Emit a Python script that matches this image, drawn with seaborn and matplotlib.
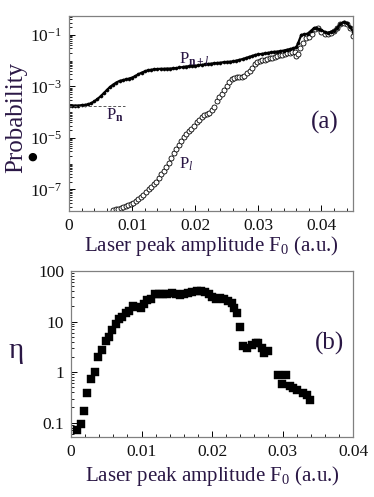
import numpy as np
import pandas as pd
import matplotlib
matplotlib.use("Agg")
import matplotlib.pyplot as plt
import seaborn as sns
from matplotlib.ticker import FixedLocator, LogLocator, NullFormatter, MultipleLocator

# ---------------- data (panel a) ----------------
F_filled = [0.0000, 0.0005, 0.0010, 0.0015, 0.0020, 0.0025, 0.0030, 0.0035, 0.0040, 0.0045,
            0.0050, 0.0055, 0.0060, 0.0065, 0.0070, 0.0075, 0.0080, 0.0085, 0.0090, 0.0095,
            0.0100, 0.0105, 0.0110, 0.0115, 0.0120, 0.0125, 0.0130, 0.0135, 0.0140, 0.0145,
            0.0150, 0.0155, 0.0160, 0.0165, 0.0170, 0.0175, 0.0180, 0.0185, 0.0190, 0.0195,
            0.0200, 0.0205, 0.0210, 0.0215, 0.0220, 0.0225, 0.0230, 0.0235, 0.0240, 0.0245,
            0.0250, 0.0255, 0.0260, 0.0265, 0.0270, 0.0275, 0.0280, 0.0285, 0.0290, 0.0295,
            0.0300, 0.0305, 0.0310, 0.0315, 0.0320, 0.0325, 0.0330, 0.0335, 0.0340, 0.0345,
            0.0350, 0.0355, 0.0360, 0.0363, 0.0368, 0.0373, 0.0378, 0.0383, 0.0388, 0.0392,
            0.0396, 0.0400, 0.0405, 0.0410, 0.0415, 0.0420, 0.0425, 0.0430, 0.0435, 0.0440,
            0.0445, 0.0450]
P_filled = [1.8e-4, 1.8e-4, 1.8e-4, 1.8e-4, 1.86e-4, 1.9e-4, 2.0e-4, 2.2e-4, 2.6e-4, 3.2e-4,
            4.1e-4, 5.4e-4, 7.2e-4, 9.5e-4, 1.17e-3, 1.41e-3, 1.62e-3, 1.74e-3, 1.86e-3, 2.0e-3,
            2.19e-3, 2.5e-3, 2.95e-3, 3.4e-3, 3.8e-3, 4.2e-3, 4.4e-3, 4.6e-3, 4.7e-3, 4.8e-3,
            4.8e-3, 4.9e-3, 4.9e-3, 5.0e-3, 5.1e-3, 5.4e-3, 5.6e-3, 5.9e-3, 6.0e-3, 6.2e-3,
            6.3e-3, 6.5e-3, 6.8e-3, 7.1e-3, 7.4e-3, 7.6e-3, 7.9e-3, 8.1e-3, 8.3e-3, 8.7e-3,
            8.9e-3, 9.1e-3, 9.3e-3, 1.0e-2, 1.07e-2, 1.15e-2, 1.26e-2, 1.38e-2, 1.51e-2, 1.66e-2,
            1.74e-2, 1.82e-2, 1.9e-2, 2.0e-2, 2.1e-2, 2.2e-2, 2.24e-2, 2.34e-2, 2.45e-2, 2.63e-2,
            2.8e-2, 3.0e-2, 3.3e-2, 4.8e-2, 0.100, 0.105, 0.112, 0.141, 0.182, 0.186,
            0.166, 0.151, 0.132, 0.120, 0.132, 0.145, 0.191, 0.275, 0.309, 0.282,
            0.209, 0.135]

F_open = [0.0070, 0.0074, 0.0078, 0.0082, 0.0086, 0.0090, 0.0094, 0.0098, 0.0102, 0.0106,
          0.0110, 0.0114, 0.0118, 0.0122, 0.0126, 0.0130, 0.0134, 0.0138, 0.0142, 0.0146,
          0.0150, 0.0154, 0.0158, 0.0162, 0.0166, 0.0170, 0.0174, 0.0178, 0.0182, 0.0186,
          0.0190, 0.0194, 0.0198, 0.0202, 0.0206, 0.0210, 0.0214, 0.0218, 0.0222, 0.0226,
          0.0230, 0.0234, 0.0238, 0.0242, 0.0246, 0.0250, 0.0254, 0.0258, 0.0262, 0.0266,
          0.0270, 0.0274, 0.0278, 0.0282, 0.0286, 0.0290, 0.0294, 0.0298, 0.0302, 0.0306,
          0.0310, 0.0314, 0.0318, 0.0322, 0.0326, 0.0330, 0.0334, 0.0338, 0.0342, 0.0346,
          0.0350, 0.0354, 0.0358, 0.0360, 0.0362, 0.0366, 0.0370, 0.0375, 0.0380, 0.0385,
          0.0390, 0.0395, 0.0400, 0.0405, 0.0410, 0.0415, 0.0420, 0.0425, 0.0430, 0.0435,
          0.0440, 0.0445, 0.0450]
P_open = [1.6e-8, 1.7e-8, 1.7e-8, 1.9e-8, 2.1e-8, 2.3e-8, 2.5e-8, 2.8e-8, 3.0e-8, 3.5e-8,
          4.2e-8, 4.9e-8, 6.2e-8, 7.9e-8, 1.0e-7, 1.26e-7, 1.55e-7, 2.0e-7, 2.8e-7, 3.8e-7,
          5.2e-7, 7.2e-7, 1.07e-6, 1.6e-6, 2.5e-6, 3.6e-6, 5.2e-6, 7.6e-6, 1.05e-5, 1.45e-5,
          1.8e-5, 2.3e-5, 3.0e-5, 4.0e-5, 5.1e-5, 6.5e-5, 7.6e-5, 8.5e-5, 9.5e-5, 1.17e-4,
          1.6e-4, 2.6e-4, 4.0e-4, 5.2e-4, 7.4e-4, 1.05e-3, 1.48e-3, 1.9e-3, 2.2e-3, 2.3e-3,
          2.35e-3, 2.4e-3, 2.6e-3, 3.2e-3, 3.8e-3, 5.2e-3, 7.6e-3, 8.9e-3, 9.5e-3, 1.02e-2,
          1.1e-2, 1.15e-2, 1.23e-2, 1.29e-2, 1.38e-2, 1.45e-2, 1.58e-2, 1.66e-2, 1.78e-2, 1.9e-2,
          2.0e-2, 2.1e-2, 2.2e-2, 1.45e-2, 1.78e-2, 3.0e-2, 5.0e-2, 7.6e-2, 7.9e-2, 0.112,
          0.166, 0.178, 0.132, 0.112, 0.107, 0.117, 0.141, 0.191, 0.263, 0.295,
          0.263, 0.191, 0.093]

Pn_x = [0.0, 0.0089]
Pn_y = [1.8e-4, 1.8e-4]

# ---------------- data (panel b) ----------------
F_eta = [0.0008, 0.00137, 0.00184, 0.00232, 0.00288, 0.0034, 0.00388, 0.00435, 0.00492, 0.00539,
         0.00586, 0.00634, 0.00681, 0.00728, 0.00776, 0.00823, 0.00884, 0.0094, 0.00988, 0.01035,
         0.01083, 0.0113, 0.0119, 0.01248, 0.0131, 0.01366, 0.01428, 0.01485, 0.01546, 0.01603,
         0.01664, 0.0172, 0.01783, 0.0184, 0.0190, 0.01957, 0.01995, 0.02057, 0.02113, 0.0217,
         0.0223, 0.0228, 0.0231, 0.0236, 0.0240, 0.02444, 0.0250, 0.02563, 0.0262, 0.02657,
         0.02705, 0.02738, 0.0279, 0.0294, 0.0305, 0.02988, 0.0310, 0.03154, 0.0321, 0.03295,
         0.03343, 0.0339]
eta = [0.073, 0.093, 0.169, 0.38, 0.74, 1.01, 1.95, 2.7, 4.2, 4.9,
       6.8, 8.9, 11.2, 12.4, 14.5, 16.3, 20.3, 19.6, 18.7, 21.8,
       26.8, 28.0, 34.5, 34.5, 34.5, 35.0, 36.0, 35.0, 33.5, 35.0,
       37.0, 39.0, 40.0, 40.0, 39.0, 34.5, 31.0, 27.5, 28.8, 27.5,
       25.5, 23.0, 18.3, 14.5, 7.9, 3.27, 2.95, 3.4, 3.7, 3.8,
       2.95, 2.4, 2.6, 0.87, 0.87, 0.57, 0.52, 0.48, 0.44, 0.39,
       0.35, 0.28]

xticks_a = [0, 0.01, 0.02, 0.03, 0.04]
xticklabels_a = ["0", "0.01", "0.02", "0.03", "0.04"]
yticks_a = [1e-1, 1e-3, 1e-5, 1e-7]
yticklabels_a = [r"$10^{-1}$", r"$10^{-3}$", r"$10^{-5}$", r"$10^{-7}$"]
xticks_b = [0, 0.01, 0.02, 0.03, 0.04]
xticklabels_b = ["0", "0.01", "0.02", "0.03", "0.04"]
yticks_b = [0.1, 1, 10, 100]
yticklabels_b = ["0.1", "1", "10", "100"]

# ---------------- style ----------------
sns.set_style("ticks")
plt.rcParams["font.family"] = ["Liberation Serif", "DejaVu Serif"]
plt.rcParams["mathtext.fontset"] = "custom"
plt.rcParams["mathtext.rm"] = "Liberation Serif"
plt.rcParams["mathtext.it"] = "Liberation Serif:italic"
plt.rcParams["mathtext.bf"] = "Liberation Serif:bold"

label_col = "#2a1745"
spine_col = "#808080"

fig = plt.figure(figsize=(3.74, 4.97), dpi=100)
ax1 = fig.add_axes([0.1845, 0.5755, 0.944 - 0.1845, 0.968 - 0.5755])
ax2 = fig.add_axes([0.19, 0.1207, 0.944 - 0.19, 0.4547 - 0.1207])

df_f = pd.DataFrame({"F": F_filled, "P": P_filled})
df_o = pd.DataFrame({"F": F_open, "P": P_open})
df_b = pd.DataFrame({"F": F_eta, "eta": eta})

# panel a
ax1.set_yscale("log")
sns.lineplot(data=df_o, x="F", y="P", ax=ax1, linestyle="none", marker="o",
             markersize=3.6, markerfacecolor="white", markeredgecolor="black",
             markeredgewidth=0.6, estimator=None, sort=False)
sns.lineplot(data=df_f, x="F", y="P", ax=ax1, linestyle="-", linewidth=1.6, color="black",
             marker="o", markersize=2.3, markerfacecolor="black", markeredgecolor="black",
             markeredgewidth=0.3, estimator=None, sort=False)
ax1.plot(Pn_x, Pn_y, linestyle=(0, (3, 2)), color="#555555", linewidth=0.7)
ax1.set_xlim(0, 0.045)
ax1.set_ylim(1.44e-8, 0.545)
ax1.xaxis.set_major_locator(FixedLocator(xticks_a))
ax1.set_xticklabels(xticklabels_a)
ax1.xaxis.set_minor_locator(MultipleLocator(0.002))
ax1.yaxis.set_major_locator(FixedLocator(yticks_a))
ax1.set_yticklabels(yticklabels_a)
ax1.yaxis.set_minor_locator(LogLocator(base=10, subs=np.arange(1, 10), numticks=30))
ax1.yaxis.set_minor_formatter(NullFormatter())
ax1.set_xlabel(r"Laser peak amplitude F$_0$ (a.u.)", fontsize=15, color=label_col, labelpad=0)
ax1.set_ylabel("Probability", fontsize=18, color=label_col)
ax1.yaxis.set_label_coords(-0.148, 0.48)
ax1.text(0.0175, 5.0e-3, r"P$_{\mathbf{n+}\mathit{l}}$", fontsize=12, color=label_col,
         ha="left", va="bottom")
ax1.text(0.0058, 3.3e-5, r"P$_{\mathbf{n}}$", fontsize=12, color=label_col, ha="left", va="bottom")
ax1.text(0.0174, 9.0e-7, r"P$_{\mathit{l}}$", fontsize=12, color=label_col, ha="left", va="center")
ax1.text(0.0405, 4.0e-5, "(a)", fontsize=18, color=label_col, ha="center", va="center")

# panel b
ax2.set_yscale("log")
sns.scatterplot(data=df_b, x="F", y="eta", ax=ax2, marker="s", s=26, color="black",
                edgecolor="black", linewidth=0.3)
ax2.set_xlim(0, 0.04)
ax2.set_ylim(0.052, 100)
ax2.xaxis.set_major_locator(FixedLocator(xticks_b))
ax2.set_xticklabels(xticklabels_b)
ax2.xaxis.set_minor_locator(MultipleLocator(0.002))
ax2.yaxis.set_major_locator(FixedLocator(yticks_b))
ax2.set_yticklabels(yticklabels_b)
ax2.yaxis.set_minor_locator(LogLocator(base=10, subs=np.arange(2, 10), numticks=30))
ax2.yaxis.set_minor_formatter(NullFormatter())
ax2.set_xlabel(r"Laser peak amplitude F$_0$ (a.u.)", fontsize=15, color=label_col, labelpad=3)
ax2.set_ylabel("\u03b7", fontsize=21, color=label_col, rotation=0, va="center", ha="center")
ax2.yaxis.set_label_coords(-0.196, 0.52)
ax2.text(0.0366, 3.7, "(b)", fontsize=18, color=label_col, ha="center", va="center")

for ax in (ax1, ax2):
    for s in ax.spines.values():
        s.set_visible(True)
        s.set_color(spine_col)
        s.set_linewidth(0.9)
    ax.tick_params(which="major", direction="in", length=4, width=0.7, colors="black",
                   labelsize=12.5, labelcolor="#111111", pad=5)
    ax.tick_params(which="minor", direction="in", length=2, width=0.6, colors="black")
    ax.tick_params(top=False, right=False, which="both")

# bullet symbol below "Probability"
fig.text(32 / 374, 1 - 157 / 497, "\u25CF", fontsize=8, color="black", ha="center", va="center",
         family=["DejaVu Sans"])

fig.savefig("out.png", dpi=100)
